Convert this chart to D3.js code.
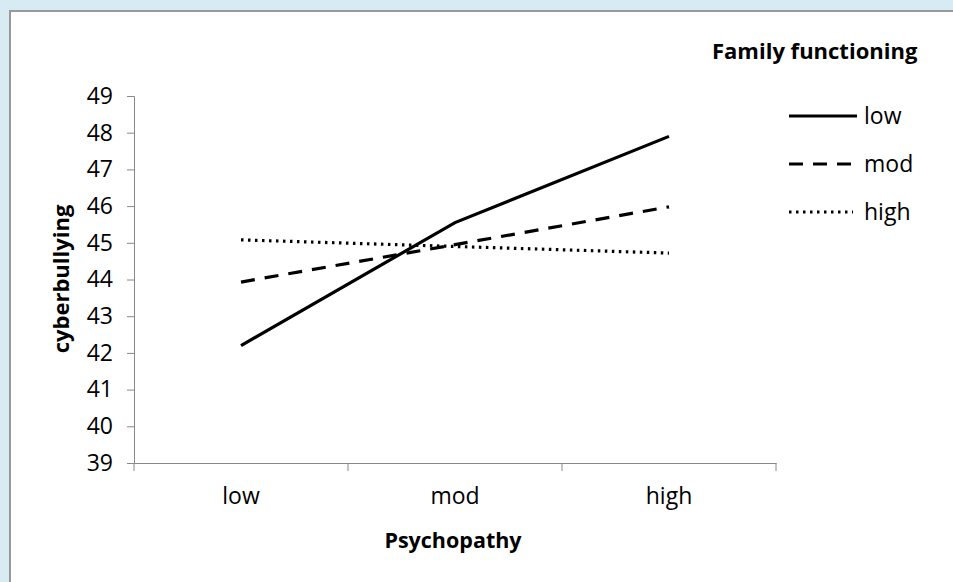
<!DOCTYPE html>
<html>
<head>
<meta charset="utf-8">
<script src="https://cdn.jsdelivr.net/npm/d3@7"></script>
<style>
  html, body { margin: 0; padding: 0; overflow: hidden; background: #d7ecf2; }
  svg { display: block; }
  text { font-family: "Open Sans", "Noto Sans", sans-serif; fill: #000; }
</style>
</head>
<body>
<svg width="953" height="582"></svg>
<script>
var categories = ["low", "mod", "high"];
var seriesNames = ["low", "mod", "high"];
var lowValues = [42.2, 45.55, 47.9];
var modValues = [43.93, 44.95, 45.98];
var highValues = [45.08, 44.9, 44.72];
var yTicks = [39, 40, 41, 42, 43, 44, 45, 46, 47, 48, 49];
var dashes = ["none", "14,10", "2.5,4.5"];

var svg = d3.select("svg");

// white panel, grey edge only on top and left
svg.append("rect")
	.attr("x", 9).attr("y", 10)
	.attr("width", 944).attr("height", 572)
	.attr("fill", "#fff");
svg.append("path")
	.attr("d", "M10,582V11H953")
	.attr("fill", "none")
	.attr("stroke", "#999")
	.attr("stroke-width", 2);

var x = d3.scaleBand().domain(categories).range([134, 776]);
var y = d3.scaleLinear().domain([39, 49]).range([463, 96]);

// y axis
var yAxis = svg.append("g")
	.attr("transform", "translate(134,0)")
	.call(d3.axisLeft(y).tickValues(yTicks).tickSize(7).tickPadding(14).tickFormat(d3.format("d")));
yAxis.select(".domain").attr("stroke", "#888");
yAxis.selectAll(".tick line").attr("stroke", "#888");
yAxis.selectAll("text").attr("font-size", "23px").attr("font-family", "Open Sans").attr("fill", "#000");

// x axis, ticks sit on the category boundaries
var xAxis = svg.append("g")
	.attr("transform", "translate(0,463)")
	.call(d3.axisBottom(x).tickSize(0).tickPadding(25));
xAxis.select(".domain").attr("stroke", "#888");
xAxis.selectAll("text").attr("font-size", "23px").attr("font-family", "Open Sans").attr("fill", "#000");
svg.append("g")
	.selectAll("line")
	.data(categories.map(function(c) { return x(c); }).concat([x.range()[1]]))
	.enter().append("line")
	.attr("x1", function(d) { return d; }).attr("x2", function(d) { return d; })
	.attr("y1", 463).attr("y2", 471)
	.attr("stroke", "#888");

// lines
var allSeries = [lowValues, modValues, highValues];
var line = d3.line()
	.x(function(d, i) { return x(categories[i]) + x.bandwidth() / 2; })
	.y(function(d) { return y(d); });

svg.selectAll(".series")
	.data(allSeries)
	.enter().append("path")
	.attr("class", "series")
	.attr("fill", "none")
	.attr("stroke", "#000")
	.attr("stroke-width", 3.2)
	.attr("stroke-dasharray", function(d, i) { return dashes[i]; })
	.attr("d", line);

// axis titles
svg.append("text")
	.attr("x", 453).attr("y", 548)
	.attr("text-anchor", "middle")
	.attr("font-size", "21.5px").attr("font-weight", "bold")
	.text("Psychopathy");
svg.append("text")
	.attr("transform", "translate(69,279) rotate(-90)")
	.attr("text-anchor", "middle")
	.attr("font-size", "22px").attr("font-weight", "bold")
	.text("cyberbullying");

// legend
svg.append("text")
	.attr("x", 712).attr("y", 59)
	.attr("font-size", "22px").attr("font-weight", "bold")
	.text("Family functioning");
var legend = svg.selectAll(".legend")
	.data(seriesNames)
	.enter().append("g")
	.attr("class", "legend")
	.attr("transform", function(d, i) { return "translate(789," + (116 + i * 48) + ")"; });
legend.append("line")
	.attr("x1", 0).attr("x2", function(d, i) { return i == 2 ? 64 : 68; })
	.attr("stroke", "#000")
	.attr("stroke-width", 3.2)
	.attr("stroke-dasharray", function(d, i) { return dashes[i]; });
legend.append("text")
	.attr("x", 75).attr("y", 8)
	.attr("font-size", "23px")
	.text(function(d) { return d; });
</script>
</body>
</html>
